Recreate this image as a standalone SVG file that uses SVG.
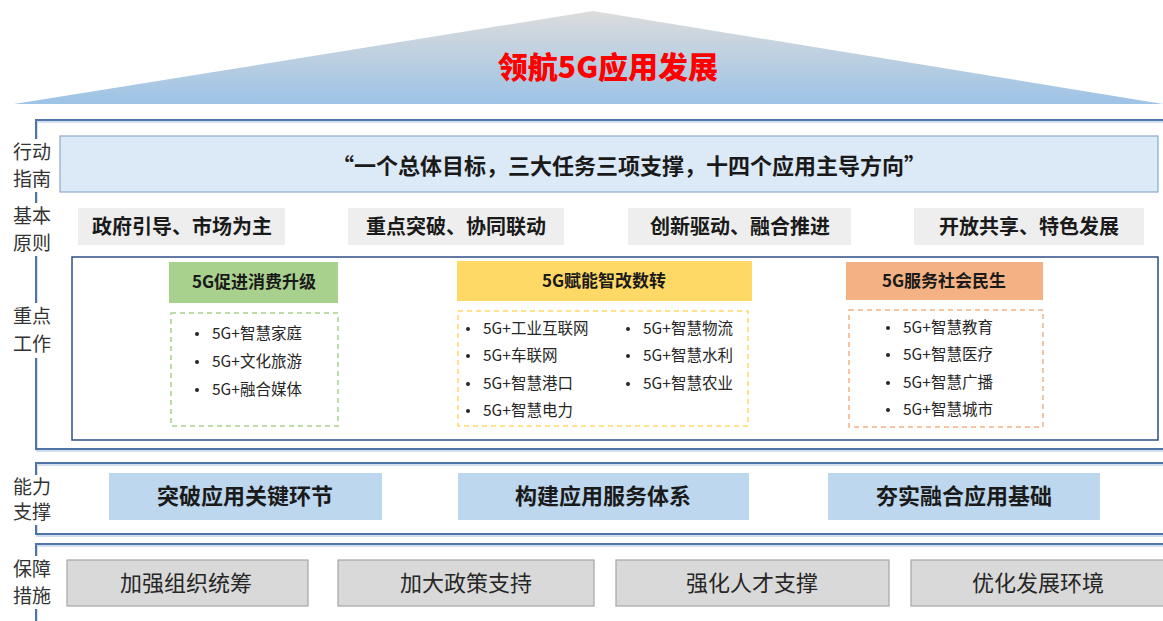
<svg xmlns="http://www.w3.org/2000/svg" width="1163" height="621" viewBox="0 0 1163 621">
<defs>
<linearGradient id="roof" x1="0" y1="0" x2="0" y2="1">
<stop offset="0" stop-color="#dcdcdc"/>
<stop offset="1" stop-color="#9dc3e6"/>
</linearGradient>
<style>
text{font-family:"Noto Sans CJK SC","Liberation Sans",sans-serif;fill:#1a1a1a}
.lbl{font-size:19px;fill:#333;text-anchor:middle}
.frame{fill:none;stroke:#4f74a8;stroke-width:2}
.frame2{fill:none;stroke:#c5d5e8;stroke-width:1.5}
.mask{fill:#fff}
.prin rect{fill:#eeeeee}
.prin text{font-size:20px;font-weight:700;text-anchor:middle}
.cap rect{fill:#bdd7ee}
.cap text{font-size:22px;font-weight:700;text-anchor:middle}
.gua rect{fill:#d9d9d9;stroke:#a6a6a6;stroke-width:1.2}
.gua text{font-size:22px;text-anchor:middle;fill:#262626}
.hd{font-size:17px;font-weight:700;text-anchor:middle}
.it{font-size:15.5px;fill:#262626}
.dot{fill:#262626}
</style>
</defs>

<g id="roof">
<polygon points="14,104 593,11 1163,104" fill="url(#roof)"/>
<text x="608" y="78" text-anchor="middle" style="font-size:30px;font-weight:900;fill:#ff0000">领航5G应用发展</text>
</g>

<g id="frames">
<rect class="frame2" x="37" y="122" width="1140" height="329"/>
<rect class="frame" x="36" y="120" width="1140" height="329"/>
<rect class="frame2" x="37" y="465" width="1140" height="71"/>
<rect class="frame" x="36" y="463" width="1140" height="71"/>
<rect class="frame2" x="37" y="546" width="1140" height="90"/>
<rect class="frame" x="36" y="544" width="1140" height="90"/>
</g>

<g id="labels">
<rect class="mask" x="8" y="139" width="50" height="53"/>
<text class="lbl" x="32" y="159">行动</text>
<text class="lbl" x="32" y="186">指南</text>
<rect class="mask" x="8" y="203" width="50" height="53"/>
<text class="lbl" x="32" y="223">基本</text>
<text class="lbl" x="32" y="250">原则</text>
<rect class="mask" x="8" y="303" width="50" height="55"/>
<text class="lbl" x="32" y="323">重点</text>
<text class="lbl" x="32" y="351">工作</text>
<rect class="mask" x="8" y="475" width="50" height="50"/>
<text class="lbl" x="32" y="494">能力</text>
<text class="lbl" x="32" y="519">支撑</text>
<rect class="mask" x="8" y="556" width="50" height="53"/>
<text class="lbl" x="32" y="576">保障</text>
<text class="lbl" x="32" y="603">措施</text>
</g>

<g id="guide">
<rect x="60" y="136" width="1098" height="56" fill="#dce9f6" stroke="#8eaacb" stroke-width="1.2"/>
<text x="629" y="174" text-anchor="middle" style="font-size:22px;font-weight:700">“一个总体目标，三大任务三项支撑，十四个应用主导方向”</text>
</g>

<g id="principles" class="prin">
<rect x="78" y="208" width="207" height="37"/>
<text x="182" y="234">政府引导、市场为主</text>
<rect x="348" y="208" width="216" height="37"/>
<text x="456" y="234">重点突破、协同联动</text>
<rect x="628" y="208" width="223" height="37"/>
<text x="740" y="234">创新驱动、融合推进</text>
<rect x="914" y="208" width="230" height="37"/>
<text x="1029" y="234">开放共享、特色发展</text>
</g>

<g id="keywork">
<rect x="72" y="257" width="1086" height="183" fill="#fff" stroke="#2f4d85" stroke-width="1.5"/>
</g>

<g id="consume">
<rect x="169" y="262" width="169" height="41" fill="#a9d18e"/>
<text class="hd" x="254" y="288">5G促进消费升级</text>
<rect x="171" y="313" width="167" height="113" fill="none" stroke="#a9d18e" stroke-width="1.5" stroke-dasharray="5,4"/>
<circle class="dot" cx="197" cy="334" r="2"/><text class="it" x="212" y="339">5G+智慧家庭</text>
<circle class="dot" cx="197" cy="362" r="2"/><text class="it" x="212" y="367">5G+文化旅游</text>
<circle class="dot" cx="197" cy="390" r="2"/><text class="it" x="212" y="395">5G+融合媒体</text>
</g>

<g id="empower">
<rect x="457" y="261" width="295" height="40" fill="#ffd966"/>
<text class="hd" x="604" y="287">5G赋能智改数转</text>
<rect x="458" y="311" width="290" height="115" fill="none" stroke="#ffd966" stroke-width="1.5" stroke-dasharray="5,4"/>
<circle class="dot" cx="468" cy="329" r="2"/><text class="it" x="483" y="334">5G+工业互联网</text>
<circle class="dot" cx="468" cy="356" r="2"/><text class="it" x="483" y="361">5G+车联网</text>
<circle class="dot" cx="468" cy="384" r="2"/><text class="it" x="483" y="389">5G+智慧港口</text>
<circle class="dot" cx="468" cy="411" r="2"/><text class="it" x="483" y="416">5G+智慧电力</text>
<circle class="dot" cx="628" cy="329" r="2"/><text class="it" x="643" y="334">5G+智慧物流</text>
<circle class="dot" cx="628" cy="356" r="2"/><text class="it" x="643" y="361">5G+智慧水利</text>
<circle class="dot" cx="628" cy="384" r="2"/><text class="it" x="643" y="389">5G+智慧农业</text>
</g>

<g id="service">
<rect x="846" y="262" width="197" height="38" fill="#f4b183"/>
<text class="hd" x="944" y="287">5G服务社会民生</text>
<rect x="849" y="310" width="194" height="117" fill="none" stroke="#f4b183" stroke-width="1.5" stroke-dasharray="5,4"/>
<circle class="dot" cx="888" cy="328" r="2"/><text class="it" x="903" y="333">5G+智慧教育</text>
<circle class="dot" cx="888" cy="355" r="2"/><text class="it" x="903" y="360">5G+智慧医疗</text>
<circle class="dot" cx="888" cy="383" r="2"/><text class="it" x="903" y="388">5G+智慧广播</text>
<circle class="dot" cx="888" cy="410" r="2"/><text class="it" x="903" y="415">5G+智慧城市</text>
</g>

<g id="capability" class="cap">
<rect x="109" y="473" width="273" height="47"/>
<text x="245" y="504">突破应用关键环节</text>
<rect x="458" y="473" width="291" height="47"/>
<text x="603" y="504">构建应用服务体系</text>
<rect x="828" y="473" width="272" height="47"/>
<text x="964" y="504">夯实融合应用基础</text>
</g>

<g id="guarantee" class="gua">
<rect x="67" y="560" width="241" height="46"/>
<text x="186" y="591">加强组织统筹</text>
<rect x="338" y="560" width="256" height="46"/>
<text x="466" y="591">加大政策支持</text>
<rect x="616" y="560" width="273" height="46"/>
<text x="752" y="591">强化人才支撑</text>
<rect x="911" y="560" width="260" height="46"/>
<text x="1038" y="591">优化发展环境</text>
</g>

<g id="connectors"></g>
</svg>
